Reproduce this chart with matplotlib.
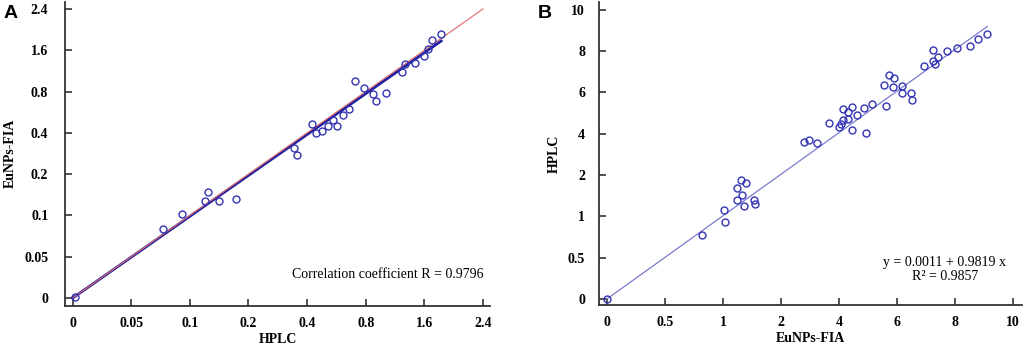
import numpy as np
import matplotlib
matplotlib.use("Agg")
import matplotlib.pyplot as plt

# ---- data ----
ticks_a = [0, 0.05, 0.1, 0.2, 0.4, 0.8, 1.6, 2.4]
tick_labels_a = ["0", "0.05", "0.1", "0.2", "0.4", "0.8", "1.6", "2.4"]

hplc_a = [0.002, 0.077, 0.093, 0.126, 0.131, 0.150, 0.179, 0.355, 0.365,
          0.430, 0.458, 0.499, 0.540, 0.578, 0.601, 0.644, 0.685, 0.724,
          0.785, 0.894, 0.938, 1.07, 1.298, 1.339, 1.475, 1.598, 1.644,
          1.698, 1.826]
fia_a = [0.001, 0.083, 0.104, 0.136, 0.156, 0.134, 0.140, 0.326, 0.294,
         0.488, 0.401, 0.420, 0.466, 0.524, 0.466, 0.569, 0.627, 1.01,
         0.868, 0.776, 0.711, 0.786, 1.184, 1.326, 1.358, 1.488, 1.63,
         1.798, 1.914]
ident_x = [0, 2.4]
ident_y = [0, 2.4]
fit_a_x = [0, 1.83]
fit_a_y = [0, 1.78]

ticks_b = [0, 0.5, 1, 2, 4, 6, 8, 10]
tick_labels_b = ["0", "0.5", "1", "2", "4", "6", "8", "10"]

fia_b = [0.0, 0.822, 1.011, 1.04, 1.241, 1.241, 1.31, 1.328, 1.356, 1.397,
         1.529, 1.546, 2.78, 2.95, 3.23, 3.66, 4.0, 4.06, 4.13, 4.14, 4.32,
         4.32, 4.43, 4.45, 4.60, 4.84, 4.93, 5.13, 5.55, 5.63, 5.72, 5.84,
         5.90, 6.15, 6.18, 6.47, 6.52, 6.92, 7.24, 7.22, 7.29, 7.40, 7.70,
         8.05, 8.51, 8.78, 9.09]
hplc_b = [0.0, 0.774, 1.153, 0.927, 1.395, 1.694, 1.887, 1.516, 1.25, 1.806,
          1.395, 1.306, 3.60, 3.68, 3.55, 4.50, 4.31, 4.47, 4.65, 5.18, 4.71,
          5.03, 5.27, 4.16, 4.90, 5.24, 4.03, 5.42, 6.37, 5.34, 6.85, 6.24,
          6.69, 5.94, 6.29, 5.95, 5.63, 7.26, 8.03, 7.52, 7.37, 7.69, 8.0,
          8.13, 8.24, 8.56, 8.84]
fit_b_x = [0, 9.1]
fit_b_y = [0, 9.18]


def tick_scale(ticks):
    # equal spacing between the listed ticks, linear inside each step
    v = np.array(ticks, float)
    i = np.arange(len(v), dtype=float)
    v = np.r_[v[0] - 100*(v[1]-v[0]), v, v[-1] + 100*(v[-1]-v[-2])]
    i = np.r_[-100, i, i[-1] + 100]
    fwd = lambda x: np.interp(x, v, i)
    inv = lambda y: np.interp(y, i, v)
    return fwd, inv


def style_axes(ax, ticks, labels, xpad, ypad):
    for s in ["top", "right"]:
        ax.spines[s].set_visible(False)
    for s in ["left", "bottom"]:
        ax.spines[s].set_linewidth(1.3)
        ax.spines[s].set_color("#333333")
    ax.set_xticks(ticks)
    ax.set_xticklabels(labels)
    ax.set_yticks(ticks)
    ax.set_yticklabels(labels)
    ax.minorticks_off()
    ax.tick_params(axis="both", direction="in", length=5, width=1.2,
                   color="#333333")
    ax.tick_params(axis="x", pad=xpad)
    ax.tick_params(axis="y", pad=ypad)
    for lab in ax.get_xticklabels() + ax.get_yticklabels():
        lab.set_fontfamily("Liberation Serif")
        lab.set_fontweight("bold")
        lab.set_fontsize(10)


fig = plt.figure(figsize=(10.24, 3.48), dpi=100)

# ---- panel A ----
axA = fig.add_axes([0.0635, 0.121, 0.415, 0.874])
fa = tick_scale(ticks_a)
axA.set_xscale("function", functions=fa)
axA.set_yscale("function", functions=fa)
axA.plot(fit_a_x, fit_a_y, color="#2020a0", lw=2.0, zorder=2)
axA.plot(ident_x, ident_y, color="#e06a6a", lw=0.8, zorder=3)
axA.plot(hplc_a, fia_a, "o", mfc="none", mec="#3434b4", ms=5, mew=1.0,
         zorder=4)
axA.set_xlim(-0.0065, 2.496)
axA.set_ylim(-0.0095, 2.54)
style_axes(axA, ticks_a, tick_labels_a, 8, 12)
axA.set_xlabel("HPLC", fontfamily="Liberation Serif", fontweight="bold",
               fontsize=10, labelpad=2)
axA.set_ylabel("EuNPs-FIA", fontfamily="Liberation Serif", fontweight="bold",
               fontsize=10, labelpad=5)
axA.text(0.985, 0.102, "Correlation coefficient R = 0.9796",
         transform=axA.transAxes, ha="right", va="center",
         fontfamily="Liberation Serif", fontsize=10)
fig.text(0.003, 0.985, "A", ha="left", va="top", fontfamily="Liberation Sans",
         fontweight="bold", fontsize=14)

# ---- panel B ----
axB = fig.add_axes([0.585, 0.123, 0.413, 0.872])
fb = tick_scale(ticks_b)
axB.set_xscale("function", functions=fb)
axB.set_yscale("function", functions=fb)
axB.plot(fit_b_x, fit_b_y, color="#7a7ad0", lw=0.9, zorder=2)
axB.plot(fia_b, hplc_b, "o", mfc="none", mec="#3434b4", ms=5, mew=1.0,
         zorder=4)
axB.set_xlim(-0.069, 10.3)
axB.set_ylim(-0.0765, 10.38)
style_axes(axB, ticks_b, tick_labels_b, 8, 10)
axB.set_xlabel("EuNPs-FIA", fontfamily="Liberation Serif", fontweight="bold",
               fontsize=10, labelpad=2)
axB.set_ylabel("HPLC", fontfamily="Liberation Serif", fontweight="bold",
               fontsize=10, labelpad=5)
axB.text(0.818, 0.116, "y = 0.0011 + 0.9819 x\nR² = 0.9857",
         transform=axB.transAxes, ha="center", va="center",
         fontfamily="Liberation Serif", fontsize=10, linespacing=1.1)
fig.text(0.525, 0.985, "B", ha="left", va="top", fontfamily="Liberation Sans",
         fontweight="bold", fontsize=14)

fig.savefig("out.png", dpi=100)
